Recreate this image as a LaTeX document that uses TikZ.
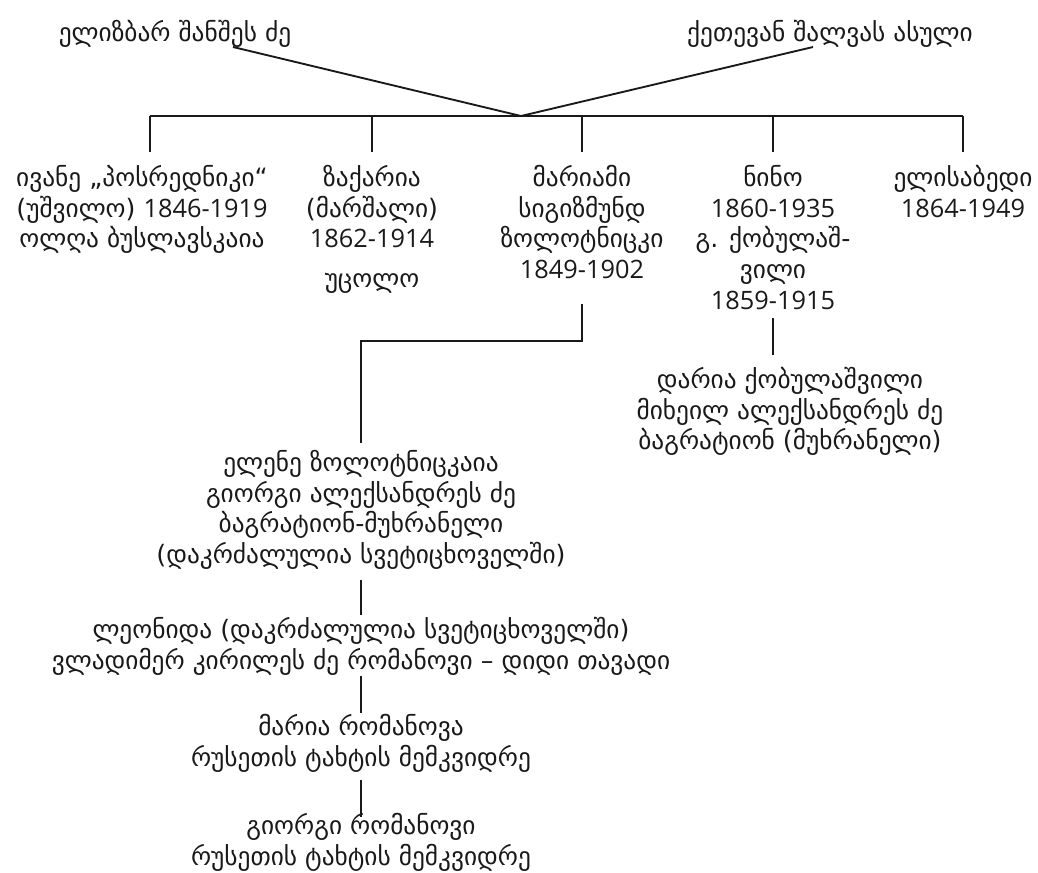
\documentclass[tikz,border=0pt]{standalone}
\usepackage{fontspec}
\setmainfont{DejaVu Sans}
\newfontfamily\yearfont{Open Sans}
\newcommand{\yr}[1]{{\yearfont #1}}
\newcommand{\topstrut}{\rule{0pt}{15pt}}
\usetikzlibrary{calc}

\begin{document}
\begin{tikzpicture}[x=0.75pt,y=-0.75pt,
    person/.style={align=center, inner sep=0pt, anchor=north, text=black!90,
        font=\fontsize{19}{23}\selectfont, execute at begin node=\topstrut},
    tie/.style={line width=1.4pt, black!90}]
        \useasboundingbox (0,0) rectangle (1038,872);

        % parents
        \node[person] (eliz) at (175,20) {ელიზბარ შანშეს ძე};
        \node[person] (ketev) at (830,20) {ქეთევან შალვას ასული};
        \coordinate (elizfoot) at (233,47);
        \coordinate (ketevfoot) at (813,47);
        \coordinate (apex) at (521,116);

        % children
        \node[person] (ivane) at (142,165) {ივანე „პოსრედნიკი“\\(უშვილო) \yr{1846-1919}\\ოლღა ბუსლავსკაია};
        \node[person] (zakaria) at (372,165) {ზაქარია\\(მარშალი)\\\yr{1862-1914}\\[7pt]უცოლო};
        \node[person] (mariam) at (582,165) {მარიამი\\სიგიზმუნდ\\ზოლოტნიცკი\\\yr{1849-1902}};
        \node[person] (nino) at (773,165) {ნინო\\\yr{1860-1935}\\გ. ქობულაშ-\\ვილი\\\yr{1859-1915}};
        \node[person] (elisabed) at (963,165) {ელისაბედი\\\yr{1864-1949}};

        \coordinate (ivane-in) at (150,152);
        \coordinate (zakaria-in) at (372,152);
        \coordinate (mariam-in) at (582,152);
        \coordinate (nino-in) at (773,152);
        \coordinate (elisabed-in) at (963,152);

        % grandchildren
        \node[person] (daria) at (790,367) {დარია ქობულაშვილი\\მიხეილ ალექსანდრეს ძე\\ბაგრატიონ (მუხრანელი)};
        \node[person] (elene) at (361,450) {ელენე ზოლოტნიცკაია\\გიორგი ალექსანდრეს ძე\\ბაგრატიონ-მუხრანელი\\(დაკრძალულია სვეტიცხოველში)};
        \node[person] (leonida) at (361,617) {ლეონიდა (დაკრძალულია სვეტიცხოველში)\\ვლადიმერ კირილეს ძე რომანოვი – დიდი თავადი};
        \node[person] (maria) at (361,714) {მარია რომანოვა\\რუსეთის ტახტის მემკვიდრე};
        \node[person] (giorgi) at (361,813) {გიორგი რომანოვი\\რუსეთის ტახტის მემკვიდრე};

        \coordinate (mariam-out) at (582,304);
        \coordinate (nino-out) at (773,318);
        \coordinate (daria-in) at (773,355);
        \coordinate (elene-in) at (361,443);
        \coordinate (elene-out) at (361,580);
        \coordinate (leonida-in) at (361,615);
        \coordinate (leonida-out) at (361,676);
        \coordinate (maria-in) at (361,713);
        \coordinate (maria-out) at (361,780);
        \coordinate (giorgi-in) at (361,817);

        % lines
        \draw[tie] (elizfoot) -- (apex) -- (ketevfoot);
        \draw[tie] (ivane-in |- apex) -- (elisabed-in |- apex);
        \foreach \kid in {ivane,zakaria,mariam,nino,elisabed}
            \draw[tie] (\kid-in |- apex) -- (\kid-in);

        \draw[tie] (mariam-out) |- ($(elene-in)+(0,-102)$) -- (elene-in);
        \draw[tie] (nino-out) -- (daria-in);
        \draw[tie] (elene-out) -- (leonida-in);
        \draw[tie] (leonida-out) -- (maria-in);
        \draw[tie] (maria-out) -- (giorgi-in);
\end{tikzpicture}
\end{document}
